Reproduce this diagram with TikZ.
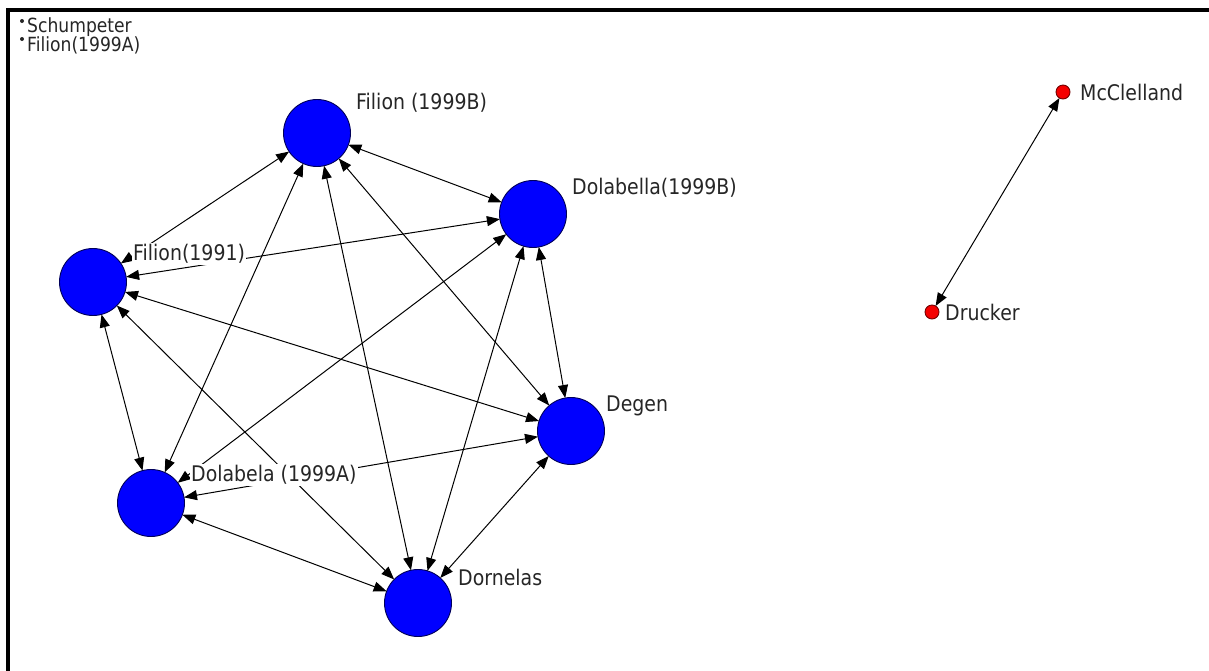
\documentclass[tikz,border=0pt]{standalone}
\usepackage{fontspec}
\setmainfont{DejaVu Sans}
\newfontfamily\lblfont[FakeStretch=0.88]{DejaVu Sans}
\usetikzlibrary{arrows.meta}
\begin{document}
\begin{tikzpicture}[x=1pt,y=-1pt,
 bignode/.style={circle,fill={rgb,255:red,0;green,0;blue,255},draw=black!65!blue,line width=0.9pt,minimum size=67pt,inner sep=0pt,outer sep=0pt},
 smallnode/.style={circle,fill={rgb,255:red,245;green,0;blue,0},draw=black!55!red,line width=0.9pt,minimum size=14pt,inner sep=0pt,outer sep=0pt},
 lbl/.style={anchor=west,fill=white,inner sep=1pt,font=\lblfont\fontsize{21.5}{24}\selectfont,text=black!85},
 legend/.style={anchor=west,inner sep=0pt,font=\lblfont\fontsize{19.5}{22}\selectfont,text=black!85},
 dot/.style={circle,fill=black!85,inner sep=0pt,minimum size=4pt},
 tie/.style={{Triangle[length=13pt,width=10pt]}-{Triangle[length=13pt,width=10pt]},line width=1pt},
]
\useasboundingbox (0,0) rectangle (1209,670);
\fill[white] (0,0) rectangle (1209,670);
\draw[line width=3.2pt] (8,672) -- (8,10) -- (1211,10);

% legend
\node[dot] (b1) at (22,21) {};
\node[legend] (l1) at (27,27) {Schumpeter};
\node[dot] (b2) at (22,39) {};
\node[legend] (l2) at (27,45) {Filion(1999A)};

% nodes
\node[bignode] (A) at (317,133) {};
\node[bignode] (B) at (533,214) {};
\node[bignode] (C) at (93,282) {};
\node[bignode] (D) at (151,503) {};
\node[bignode] (E) at (418,603) {};
\node[bignode] (F) at (571,431) {};
\node[smallnode] (M) at (1063,92) {};
\node[smallnode] (R) at (932,312) {};

% edges
\draw[tie] (A) -- (B);
\draw[tie] (A) -- (C);
\draw[tie] (A) -- (D);
\draw[tie] (A) -- (E);
\draw[tie] (A) -- (F);
\draw[tie] (B) -- (C);
\draw[tie] (B) -- (D);
\draw[tie] (B) -- (E);
\draw[tie] (B) -- (F);
\draw[tie] (C) -- (D);
\draw[tie] (C) -- (E);
\draw[tie] (C) -- (F);
\draw[tie] (D) -- (E);
\draw[tie] (D) -- (F);
\draw[tie] (E) -- (F);
\draw[tie] (M) -- (R);

% labels
\node[lbl] (tA) at (355,103) {Filion (1999B)};
\node[lbl] (tB) at (571,188) {Dolabella(1999B)};
\node[lbl] (tC) at (132,254) {Filion(1991)};
\node[lbl] (tD) at (190,475) {Dolabela (1999A)};
\node[lbl] (tE) at (457,577) {Dornelas};
\node[lbl] (tF) at (605,406) {Degen};
\node[lbl] (tM) at (1079,92) {McClelland};
\node[lbl] (tR) at (944,312) {Drucker};
\end{tikzpicture}
\end{document}
